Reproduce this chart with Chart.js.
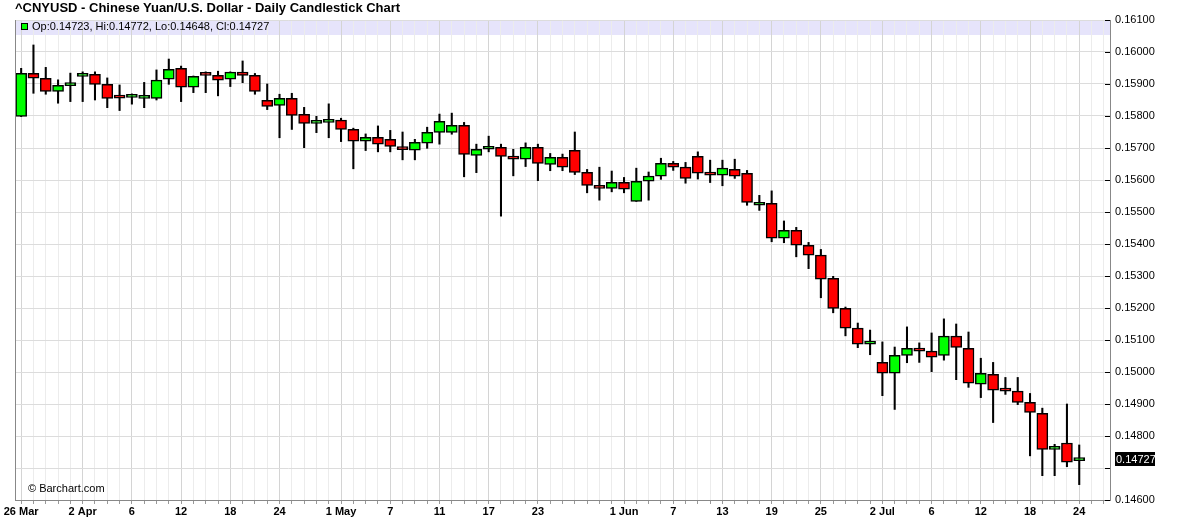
<!DOCTYPE html>
<html>
<head>
<meta charset="utf-8">
<script src="https://cdn.jsdelivr.net/npm/chart.js@4.4.1/dist/chart.umd.min.js"></script>
<style>
  body { margin: 0; background: #fff; }
  #wrap { position: relative; width: 1180px; height: 529px; }
  #title { position: absolute; left: 15px; top: 0; font: bold 13px Arial, "Liberation Sans", sans-serif; line-height: 16px; color: #000; white-space: nowrap; }
  #info { position: absolute; left: 21px; top: 20px; font: 11px Arial, "Liberation Sans", sans-serif; line-height: 13px; color: #000; white-space: nowrap; }
  #info i { display: inline-block; width: 5px; height: 5px; border: 1px solid #000; background: #00ff00; margin-right: 4px; vertical-align: 0px; }
  #credit { position: absolute; left: 28px; top: 482px; font: 11px Arial, "Liberation Sans", sans-serif; line-height: 13px; color: #000; }
</style>
</head>
<body>
<div id="wrap">
  <canvas id="myChart" width="1180" height="529"></canvas>
  <div id="title">^CNYUSD - Chinese Yuan/U.S. Dollar - Daily Candlestick Chart</div>
  <div id="info"></div>
  <div id="credit">&copy; Barchart.com</div>
</div>
<script>
// trading days (2018), last two are empty slots on the right
var days = [
  '03-26','03-27','03-28','03-29','03-30',
  '04-02','04-03','04-04','04-05','04-06','04-09','04-10','04-11','04-12','04-13',
  '04-16','04-17','04-18','04-19','04-20','04-23','04-24','04-25','04-26','04-27','04-30',
  '05-01','05-02','05-03','05-04','05-07','05-08','05-09','05-10','05-11',
  '05-14','05-15','05-16','05-17','05-18','05-21','05-22','05-23','05-24','05-25',
  '05-28','05-29','05-30','05-31',
  '06-01','06-04','06-05','06-06','06-07','06-08','06-11','06-12','06-13','06-14','06-15',
  '06-18','06-19','06-20','06-21','06-22','06-25','06-26','06-27','06-28','06-29',
  '07-02','07-03','07-04','07-05','07-06','07-09','07-10','07-11','07-12','07-13',
  '07-16','07-17','07-18','07-19','07-20','07-23','07-24','07-25','07-26'
];

var tickLabels = {
  '03-26': '26 Mar', '04-02': '2 Apr', '04-06': '6', '04-12': '12', '04-18': '18', '04-24': '24',
  '05-01': '1 May', '05-07': '7', '05-11': '11', '05-17': '17', '05-23': '23',
  '06-01': '1 Jun', '06-07': '7', '06-13': '13', '06-19': '19', '06-25': '25',
  '07-02': '2 Jul', '07-06': '6', '07-12': '12', '07-18': '18', '07-24': '24'
};

var opens = [
  0.15799, 0.15933, 0.15918, 0.15877, 0.15895, 0.15924, 0.15930, 0.15899, 0.15857, 0.15858,
  0.15855, 0.15855, 0.15915, 0.15949, 0.15890, 0.15933, 0.15927, 0.15915, 0.15937, 0.15927,
  0.15849, 0.15833, 0.15855, 0.15805, 0.15777, 0.15780, 0.15787, 0.15758, 0.15721, 0.15733,
  0.15727, 0.15701, 0.15693, 0.15715, 0.15749, 0.15749, 0.15771, 0.15677, 0.15696, 0.15702,
  0.15674, 0.15665, 0.15702, 0.15649, 0.15671, 0.15693, 0.15624, 0.15583, 0.15574, 0.15593,
  0.15533, 0.15596, 0.15612, 0.15652, 0.15640, 0.15674, 0.15621, 0.15615, 0.15633, 0.15621,
  0.15521, 0.15527, 0.15418, 0.15443, 0.15396, 0.15365, 0.15293, 0.15199, 0.15137, 0.15087,
  0.15030, 0.14996, 0.15052, 0.15071, 0.15065, 0.15052, 0.15112, 0.15074, 0.14962, 0.14993,
  0.14949, 0.14940, 0.14905, 0.14871, 0.14758, 0.14778, 0.14723
];
var highs = [
  0.15949, 0.16022, 0.15952, 0.15913, 0.15934, 0.15938, 0.15938, 0.15919, 0.15897, 0.15869,
  0.15905, 0.15944, 0.15978, 0.15956, 0.15925, 0.15938, 0.15940, 0.15938, 0.15972, 0.15933,
  0.15900, 0.15868, 0.15871, 0.15827, 0.15799, 0.15838, 0.15793, 0.15762, 0.15744, 0.15769,
  0.15755, 0.15750, 0.15727, 0.15765, 0.15806, 0.15809, 0.15780, 0.15712, 0.15737, 0.15712,
  0.15696, 0.15716, 0.15712, 0.15683, 0.15681, 0.15750, 0.15633, 0.15640, 0.15628, 0.15608,
  0.15637, 0.15625, 0.15668, 0.15658, 0.15655, 0.15688, 0.15662, 0.15662, 0.15665, 0.15630,
  0.15552, 0.15566, 0.15472, 0.15452, 0.15405, 0.15383, 0.15299, 0.15203, 0.15153, 0.15131,
  0.15094, 0.15078, 0.15141, 0.15091, 0.15122, 0.15166, 0.15150, 0.15125, 0.15043, 0.15030,
  0.14983, 0.14983, 0.14933, 0.14887, 0.14774, 0.14900, 0.14772
];
var lows = [
  0.15798, 0.15871, 0.15868, 0.15840, 0.15845, 0.15845, 0.15850, 0.15826, 0.15817, 0.15837,
  0.15826, 0.15850, 0.15899, 0.15845, 0.15873, 0.15873, 0.15863, 0.15892, 0.15904, 0.15868,
  0.15820, 0.15732, 0.15758, 0.15701, 0.15748, 0.15732, 0.15720, 0.15635, 0.15692, 0.15688,
  0.15688, 0.15663, 0.15663, 0.15699, 0.15712, 0.15743, 0.15610, 0.15623, 0.15688, 0.15487,
  0.15613, 0.15642, 0.15598, 0.15629, 0.15629, 0.15617, 0.15560, 0.15537, 0.15563, 0.15560,
  0.15533, 0.15537, 0.15602, 0.15630, 0.15590, 0.15603, 0.15592, 0.15582, 0.15605, 0.15521,
  0.15505, 0.15407, 0.15404, 0.15360, 0.15323, 0.15232, 0.15185, 0.15113, 0.15076, 0.15054,
  0.14926, 0.14883, 0.15029, 0.15030, 0.15001, 0.15037, 0.14976, 0.14952, 0.14920, 0.14842,
  0.14930, 0.14898, 0.14738, 0.14676, 0.14676, 0.14704, 0.14648
];
var closes = [
  0.15933, 0.15918, 0.15877, 0.15896, 0.15896, 0.15930, 0.15899, 0.15855, 0.15856, 0.15859,
  0.15856, 0.15912, 0.15946, 0.15890, 0.15924, 0.15927, 0.15912, 0.15937, 0.15927, 0.15877,
  0.15830, 0.15855, 0.15802, 0.15777, 0.15785, 0.15787, 0.15758, 0.15721, 0.15733, 0.15712,
  0.15705, 0.15695, 0.15718, 0.15749, 0.15783, 0.15771, 0.15680, 0.15696, 0.15702, 0.15674,
  0.15665, 0.15702, 0.15652, 0.15671, 0.15640, 0.15624, 0.15583, 0.15574, 0.15593, 0.15571,
  0.15596, 0.15612, 0.15652, 0.15640, 0.15605, 0.15621, 0.15615, 0.15637, 0.15612, 0.15530,
  0.15527, 0.15418, 0.15443, 0.15396, 0.15365, 0.15290, 0.15199, 0.15137, 0.15087, 0.15096,
  0.14996, 0.15052, 0.15074, 0.15065, 0.15046, 0.15112, 0.15077, 0.14965, 0.14996, 0.14943,
  0.14940, 0.14905, 0.14874, 0.14758, 0.14765, 0.14718, 0.14727
];

var n = opens.length;
var lastClose = closes[n - 1];
var font = 'Arial, "Liberation Sans", sans-serif';

document.getElementById('info').innerHTML = '<i></i>Op:' + opens[n - 1].toFixed(5) +
  ', Hi:' + highs[n - 1].toFixed(5) + ', Lo:' + lows[n - 1].toFixed(5) + ', Cl:' + lastClose.toFixed(5);

var bodies = days.map(function (d, i) { return i < n ? [opens[i], closes[i]] : null; });
var wicks = days.map(function (d, i) { return i < n ? [lows[i], highs[i]] : null; });
var bodyColors = days.map(function (d, i) { return i < n && closes[i] >= opens[i] ? '#00ff00' : '#ff0000'; });

// lavender info band, left border, inner y ticks, last price tag
var frame = {
  id: 'frame',
  beforeDraw: function (chart) {
    var ctx = chart.ctx, a = chart.chartArea;
    ctx.save();
    ctx.fillStyle = '#e6e4fb';
    ctx.fillRect(a.left, a.top, a.right - a.left, 15);
    ctx.restore();
  },
  afterDraw: function (chart) {
    var ctx = chart.ctx, a = chart.chartArea, y = chart.scales.y;
    ctx.save();
    ctx.strokeStyle = '#888';
    ctx.lineWidth = 1;
    ctx.beginPath();
    ctx.moveTo(a.left + 0.5, a.top);
    ctx.lineTo(a.left + 0.5, a.bottom);
    ctx.stroke();
    ctx.strokeStyle = '#000';
    ctx.beginPath();
    y.ticks.forEach(function (t) {
      var py = Math.round(y.getPixelForValue(t.value)) + 0.5;
      ctx.moveTo(a.right - 5, py);
      ctx.lineTo(a.right, py);
    });
    ctx.stroke();

    var py = y.getPixelForValue(lastClose);
    ctx.fillStyle = '#000';
    ctx.fillRect(a.right + 5, Math.round(py) - 7, 40, 14);
    ctx.fillStyle = '#fff';
    ctx.font = '11px ' + font;
    ctx.textBaseline = 'middle';
    ctx.fillText(lastClose.toFixed(5), a.right + 6, Math.round(py) + 0.5);
    ctx.restore();
  }
};

var ctx = document.getElementById('myChart').getContext('2d');
var chart = new Chart(ctx, {
  type: 'bar',
  data: {
    labels: days,
    datasets: [
      {
        data: bodies,
        backgroundColor: bodyColors,
        borderColor: '#000',
        borderWidth: 1.5,
        borderSkipped: false,
        barThickness: 11,
        minBarLength: 3,
        grouped: false,
        order: 0
      },
      {
        data: wicks,
        backgroundColor: '#000',
        borderWidth: 0,
        barThickness: 1.4,
        grouped: false,
        order: 1
      }
    ]
  },
  options: {
    responsive: false,
    animation: false,
    layout: { padding: { top: 20, left: 15, right: 0, bottom: 0 } },
    plugins: { legend: { display: false }, tooltip: { enabled: false }, title: { display: false } },
    scales: {
      x: {
        offset: true,
        grid: {
          offset: false,
          color: function (c) { return tickLabels[days[c.index]] ? '#d4d4d4' : '#ececec'; },
          tickLength: 4,
          tickColor: '#999'
        },
        border: { color: '#888' },
        ticks: {
          autoSkip: false,
          maxRotation: 0,
          padding: 1,
          color: '#000',
          font: { family: font, size: 11, weight: 'bold' },
          callback: function (v, i) { return tickLabels[days[i]] || ''; }
        },
        afterFit: function (s) { s.height = 29; s.paddingLeft = 0; s.paddingRight = 0; }
      },
      y: {
        position: 'right',
        min: 0.146,
        max: 0.161,
        grid: { color: '#dcdcdc', drawTicks: false },
        border: { color: '#888' },
        ticks: {
          stepSize: 0.001,
          padding: 5,
          color: '#000',
          font: { family: font, size: 11 },
          callback: function (v) { return Math.abs(v - lastClose) < 0.0004 ? '' : v.toFixed(5); }
        },
        afterFit: function (s) { s.width = 70; s.paddingTop = 0; s.paddingBottom = 0; }
      }
    }
  },
  plugins: [frame]
});
</script>
</body>
</html>
